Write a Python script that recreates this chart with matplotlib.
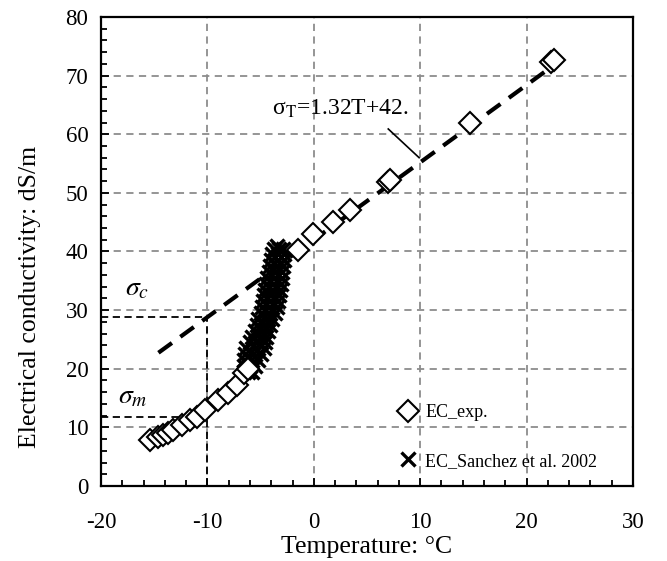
import matplotlib
matplotlib.use("Agg")
import matplotlib.pyplot as plt
import numpy as np
from matplotlib.ticker import MultipleLocator

plt.rcParams['font.family'] = ['Liberation Serif', 'DejaVu Serif']
plt.rcParams['mathtext.fontset'] = 'stix'
plt.rcParams['axes.unicode_minus'] = False

# Experimental EC data
exp_T = [-15.4, -14.6, -14.2, -13.7, -13.2, -12.4, -11.6, -11.0, -10.2, -9.0, -8.1, -7.2,
         -6.6, -6.2, -1.5, -0.1, 1.8, 3.4, 7.0, 7.2, 14.7, 22.3, 22.6]
exp_EC = [7.8, 8.4, 8.7, 9.0, 9.6, 10.4, 11.3, 11.8, 13.0, 14.7, 15.9, 17.2,
          19.3, 20.0, 40.3, 42.9, 45.0, 47.1, 51.8, 52.2, 62.0, 72.3, 72.7]

# Sanchez et al. 2002 data
san_T = [-6.6, -6.2, -5.8, -6.6, -6.0, -5.5, -6.6, -5.9, -5.2, -6.5, -5.7, -5.0,
         -6.4, -5.5, -4.7, -6.0, -5.3, -4.6, -5.8, -5.1, -4.5, -5.5, -4.9, -4.3,
         -5.3, -4.7, -4.1, -5.2, -4.5, -3.9, -5.0, -4.3, -3.6, -4.9, -4.2, -3.5,
         -4.8, -4.1, -3.4, -4.7, -4.0, -3.3, -4.6, -3.9, -3.2, -4.5, -3.8, -3.1,
         -4.4, -3.7, -3.0, -4.2, -3.6, -3.0, -4.1, -3.5, -2.9, -4.0, -3.4, -2.8,
         -3.9, -3.4, -2.8, -3.7, -3.3, -2.9, -3.5]
san_EC = [19.5, 19.5, 19.5, 20.5, 20.5, 20.5, 21.5, 21.5, 21.5, 22.5, 22.5, 22.5,
          23.5, 23.5, 23.5, 24.5, 24.5, 24.5, 25.5, 25.5, 25.5, 26.5, 26.5, 26.5,
          27.5, 27.5, 27.5, 28.5, 28.5, 28.5, 29.5, 29.5, 29.5, 30.5, 30.5, 30.5,
          31.5, 31.5, 31.5, 32.5, 32.5, 32.5, 33.5, 33.5, 33.5, 34.5, 34.5, 34.5,
          35.5, 35.5, 35.5, 36.5, 36.5, 36.5, 37.5, 37.5, 37.5, 38.5, 38.5, 38.5,
          39.5, 39.5, 39.5, 40.5, 40.5, 40.5, 41.0]

# Regression line sigma_T = 1.32 T + 42
fit_slope = 1.32
fit_icpt = 42.0
fit_T = [-14.6, 22.5]

# Reference values
T_c = -10.0
sigma_c = 28.8
sigma_m = 11.8

fig = plt.figure(figsize=(6.67, 5.61), dpi=100)
ax = fig.add_axes([0.1514, 0.1337, 0.949 - 0.1514, 0.9697 - 0.1337])

ax.set_xlim(-20, 30)
ax.set_ylim(0, 80)
ax.xaxis.set_major_locator(MultipleLocator(10))
ax.xaxis.set_minor_locator(MultipleLocator(2))
ax.yaxis.set_major_locator(MultipleLocator(10))
ax.yaxis.set_minor_locator(MultipleLocator(2))
ax.tick_params(which='major', direction='in', length=6, width=1.3, labelsize=16.5)
ax.tick_params(axis='x', which='major', pad=19)
ax.tick_params(axis='y', which='major', pad=9)
ax.tick_params(which='minor', direction='in', length=4, width=1.3)
ax.grid(True, which='major', color='#8c8c8c', linestyle=(0, (4, 3)), linewidth=1.3)
ax.set_axisbelow(True)
for s in ax.spines.values():
    s.set_linewidth(1.6)

# reference dashed lines
ax.plot([-20, T_c], [sigma_c, sigma_c], color='black', linestyle=(0, (4, 2.5)), linewidth=1.3, zorder=2)
ax.plot([T_c, T_c], [0, sigma_c], color='black', linestyle=(0, (4, 2.5)), linewidth=1.3, zorder=2)
ax.plot([-20, T_c], [sigma_m, sigma_m], color='black', linestyle=(0, (4, 2.5)), linewidth=1.3, zorder=2)

# regression line
fT = np.array(fit_T)
ax.plot(fT, fit_slope * fT + fit_icpt, color='black', linestyle=(0, (4, 2.5)), linewidth=3, zorder=3)

# data
ax.plot(san_T, san_EC, linestyle='none', marker='x', markersize=10.5, markeredgewidth=2.4,
        color='black', zorder=4, label='EC_Sanchez et al. 2002')
ax.plot(exp_T, exp_EC, linestyle='none', marker='D', markersize=11, markeredgewidth=1.5,
        markerfacecolor='white', markeredgecolor='black', zorder=5, label='EC_exp.')

# annotations
ax.text(-3.9, 64.3, r'σ$_\mathrm{T}$=1.32T+42.', fontsize=17, ha='left', va='center')
ax.plot([7.0, 9.9], [60.9, 56.0], color='black', linewidth=1.2, zorder=3)
ax.text(-16.6, 33.7, r'$\sigma_c$', fontsize=20, ha='center', va='center')
ax.text(-17.0, 15.2, r'$\sigma_m$', fontsize=20, ha='center', va='center')

ax.set_xlabel('Temperature: °C', fontsize=18.5, labelpad=2)
ax.set_ylabel('Electrical conductivity: dS/m', fontsize=18.5)
ax.yaxis.set_label_coords(-0.113, 0.403)

h, l = ax.get_legend_handles_labels()
ax.legend([h[1], h[0]], [l[1], l[0]], loc='upper left', bbox_to_anchor=(0.543, 0.19),
          frameon=False, fontsize=13, handletextpad=0.35, labelspacing=1.75,
          handlelength=1.2, borderaxespad=0.0)

fig.savefig('out.png', dpi=100)
